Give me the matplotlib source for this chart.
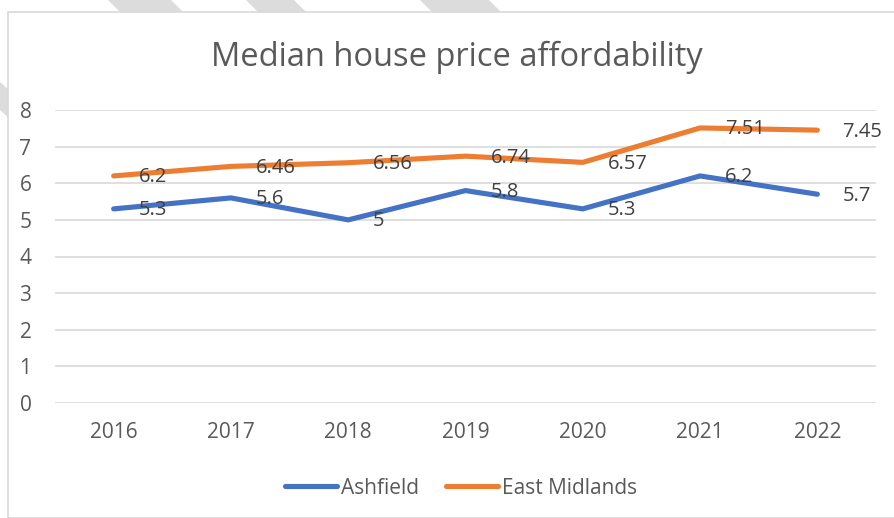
import matplotlib
matplotlib.use('Agg')
import matplotlib.pyplot as plt
from matplotlib.patches import Rectangle, Polygon

years = ['2016', '2017', '2018', '2019', '2020', '2021', '2022']
ashfield = [5.3, 5.6, 5.0, 5.8, 5.3, 6.2, 5.7]
east_midlands = [6.2, 6.46, 6.56, 6.74, 6.57, 7.51, 7.45]
ashfield_labels = ['5.3', '5.6', '5', '5.8', '5.3', '6.2', '5.7']
em_labels = ['6.2', '6.46', '6.56', '6.74', '6.57', '7.51', '7.45']

plt.rcParams['font.family'] = ['Open Sans', 'DejaVu Sans']

W, H = 894, 518
fig = plt.figure(figsize=(W / 100, H / 100), dpi=100)


def px(x, y):
    # pixel coords (top-left origin) -> figure fraction
    return (x / W, 1 - y / H)


# grey diagonal stripes behind the chart frame
stripes = [
    [(108, 0), (171, 0), (184, 13), (121, 13)],
    [(246, 0), (294, 0), (307, 13), (259, 13)],
    [(420, 0), (489, 0), (502, 13), (433, 13)],
    [(0, 82), (9, 90), (9, 118), (0, 110)],
]
for s in stripes:
    fig.patches.append(Polygon([px(*p) for p in s], closed=True,
                               transform=fig.transFigure, facecolor='#dcdcdc',
                               edgecolor='none', zorder=0))

# chart frame
x0, y0 = px(8, 518)
x1, y1 = px(900, 12)
fig.patches.append(Rectangle((x0, y0), x1 - x0, y1 - y0, transform=fig.transFigure,
                             facecolor='white', edgecolor='#d9d9d9', linewidth=1.2, zorder=1))

left, right = 55, 876
top, bottom = 110, 403
ax = fig.add_axes([left / W, 1 - bottom / H, (right - left) / W, (bottom - top) / H])
ax.set_facecolor('none')
ax.set_zorder(2)

xs = list(range(len(years)))
ax.plot(xs, ashfield, color='#4472C4', linewidth=3.7, solid_capstyle='round',
        solid_joinstyle='round', label='Ashfield')
ax.plot(xs, east_midlands, color='#ED7D31', linewidth=3.7, solid_capstyle='round',
        solid_joinstyle='round', label='East Midlands')

lbl_size = 14.5
for x, v, t in zip(xs, ashfield, ashfield_labels):
    ax.annotate(t, (x, v), xytext=(18, -1), textcoords='offset points',
                ha='left', va='center', fontsize=lbl_size, color='#404040')
for x, v, t in zip(xs, east_midlands, em_labels):
    ax.annotate(t, (x, v), xytext=(18, -1), textcoords='offset points',
                ha='left', va='center', fontsize=lbl_size, color='#404040')

ax.set_xlim(-0.5, 6.5)
ax.set_ylim(0, 8)
ax.set_yticks(range(0, 9))
ax.set_xticks(xs)
ax.set_xticklabels(years)
ax.grid(axis='y', color='#d9d9d9', linewidth=1.2)
ax.set_axisbelow(True)
for sp in ax.spines.values():
    sp.set_visible(False)
ax.tick_params(axis='both', length=0, labelsize=15, labelcolor='#595959')
ax.tick_params(axis='y', pad=17)
ax.tick_params(axis='x', pad=14)

fig.text(457 / W, 1 - 57 / H, 'Median house price affordability', ha='center', va='center',
         fontsize=23.5, color='#595959')

fig.legend(loc='center', bbox_to_anchor=(461 / W, 1 - 488 / H), ncol=2, frameon=False,
           fontsize=15, labelcolor='#595959', handlelength=2.5, handletextpad=0.2,
           columnspacing=1.3)

fig.savefig('out.png', dpi=100)
